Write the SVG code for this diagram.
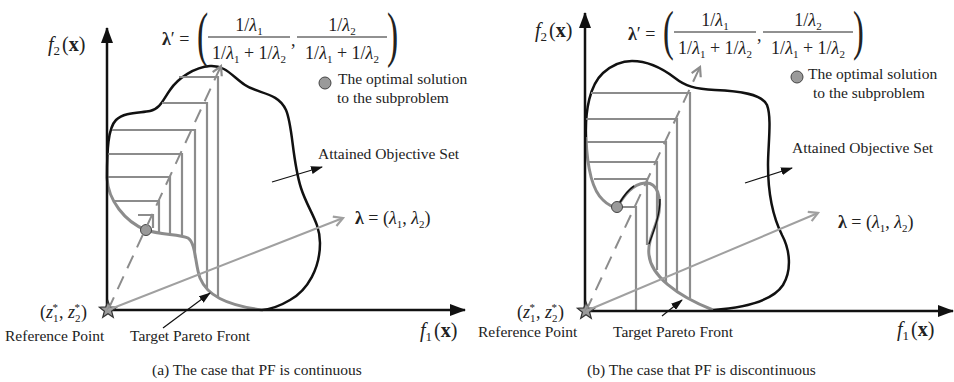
<svg xmlns="http://www.w3.org/2000/svg" width="954" height="382" viewBox="0 0 954 382">
<style>
text{font-family:"Liberation Serif","Times New Roman",serif;fill:#222}
.lbl{font-size:15.5px}
.m{font-size:18px}
.ax{font-size:20px}
.it{font-style:italic}
.b{font-weight:bold}
.sub{font-size:11px}
.axis{stroke:#111;stroke-width:2.5;fill:none}
.set{stroke:#111;stroke-width:2.5;fill:none}
.pf{stroke:#8c8c8c;stroke-width:3;fill:none}
.ct{stroke:#8c8c8c;stroke-width:2.2;fill:none}
.dash{stroke:#8c8c8c;stroke-width:2;stroke-dasharray:14 9;fill:none}
.lam{stroke:#a0a0a0;stroke-width:2;fill:none}
.ptr{stroke:#111;stroke-width:1.2;fill:none}
.bar{stroke:#222;stroke-width:1}
.dot{fill:#9a9a9a;stroke:#444;stroke-width:1}
.star{fill:#9a9a9a;stroke:#333;stroke-width:1.2}
</style>
<defs>
<marker id="ax" markerWidth="16" markerHeight="12" refX="15" refY="6" orient="auto" markerUnits="userSpaceOnUse"><path d="M0,0 L16,6 L0,12 z" fill="#111"/></marker>
<marker id="pt" markerWidth="12" markerHeight="8" refX="11" refY="4" orient="auto" markerUnits="userSpaceOnUse"><path d="M0,0 L12,4 L0,8 z" fill="#111"/></marker>
<marker id="chev" markerWidth="12" markerHeight="12" refX="10" refY="6" orient="auto" markerUnits="userSpaceOnUse"><path d="M1,1 L10,6 L1,11" fill="none" stroke="#8c8c8c" stroke-width="2.2"/></marker>
<marker id="chev2" markerWidth="12" markerHeight="12" refX="10" refY="6" orient="auto" markerUnits="userSpaceOnUse"><path d="M1,1 L10,6 L1,11" fill="none" stroke="#a0a0a0" stroke-width="2.2"/></marker>
<path id="starShape" d="M0,-9 L2.23,-3.07 L8.56,-2.78 L3.61,1.17 L5.29,7.28 L0,3.8 L-5.29,7.28 L-3.61,1.17 L-8.56,-2.78 L-2.23,-3.07 Z"/>
</defs>
<rect width="954" height="382" fill="#fff"/>

<!-- ===== Panel (a) ===== -->
<g id="panel-a">
  <g id="a-attained-set">
    <path class="set" d="M107,178 C107,150 108,128 116,120 C124,112 140,113 150,111 C160,109 163,100 170,90 C178,78 195,67 210,66 C225,65 232,76 245,85 C258,94 278,92 286,110 C293,126 292,160 301,188 C308,210 320,222 320,243 C320,268 308,290 290,300 C280,306 272,309 262,310"/>
  </g>
  <g id="a-contours">
    <path class="ct" d="M179,77 H218 V297"/>
    <path class="ct" d="M162,103 H207 V288"/>
    <path class="ct" d="M112,130 H195 V258"/>
    <path class="ct" d="M108,154 H182 V237"/>
    <path class="ct" d="M107,177 H170 V235"/>
    <path class="ct" d="M113,201 H159 V232"/>
    <path class="ct" d="M138,215 H153 V228"/>
  </g>
  <g id="a-pareto-front">
    <path class="pf" d="M107,178 C108,200 125,222 146,230 C160,235 180,234 188,238 C196,243 195,265 200,278 C207,295 225,305 262,310"/>
  </g>
  <g id="a-axes">
    <line class="axis" x1="107" y1="310" x2="107" y2="28" marker-end="url(#ax)"/>
    <line class="axis" x1="107" y1="310" x2="465" y2="310" marker-end="url(#ax)"/>
  </g>
  <g id="a-solution"><circle class="dot" cx="146" cy="230" r="5.5"/></g>
  <g id="a-reference-point"><use href="#starShape" class="star" transform="translate(108,310)"/></g>
  <g id="a-labels">
    <text class="ax" x="48" y="51"><tspan class="it">f</tspan><tspan font-size="13" dy="4">2</tspan><tspan dy="-4" dx="2">(</tspan><tspan class="b">x</tspan>)</text>
    <text class="ax" x="420" y="337"><tspan class="it">f</tspan><tspan font-size="13" dy="4">1</tspan><tspan dy="-4" dx="2">(</tspan><tspan class="b">x</tspan>)</text>
    <text class="m" x="40" y="318">(<tspan class="it">z</tspan><tspan font-size="11" dy="4">1</tspan><tspan font-size="11" dx="-6" dy="-11">*</tspan><tspan dy="7" dx="1">, </tspan><tspan class="it">z</tspan><tspan font-size="11" dy="4">2</tspan><tspan font-size="11" dx="-6" dy="-11">*</tspan><tspan dy="7" dx="1">)</tspan></text>
    <text class="lbl" x="5" y="341">Reference Point</text>
    <text class="lbl" x="130" y="341">Target Pareto Front</text>
    <text class="lbl" x="318" y="159">Attained Objective Set</text>
    <text class="lbl" x="338" y="84">The optimal solution</text>
    <text class="lbl" x="337" y="103">to the subproblem</text>
    <text class="m" x="355" y="224"><tspan class="b">λ</tspan> = (<tspan class="it">λ</tspan><tspan class="sub" dy="4">1</tspan><tspan dy="-4">, </tspan><tspan class="it">λ</tspan><tspan class="sub" dy="4">2</tspan><tspan dy="-4">)</tspan></text>
    <text class="lbl" x="152" y="375">(a) The case that PF is continuous</text>
  </g>
  <g id="a-legend-dot"><circle class="dot" cx="325" cy="83" r="6"/></g>
  <g id="a-formula">
    <text class="m" x="162" y="45"><tspan class="b">λ</tspan>′ =</text>
    <text transform="translate(197,55) scale(0.55,1)" font-size="61">(</text>
    <text x="249" y="31" class="m" text-anchor="middle">1/<tspan class="it">λ</tspan><tspan class="sub" dy="4">1</tspan></text>
    <line class="bar" x1="208" y1="37" x2="290" y2="37"/>
    <text x="249" y="59" class="m" text-anchor="middle">1/<tspan class="it">λ</tspan><tspan class="sub" dy="4">1</tspan><tspan dy="-4"> + 1/</tspan><tspan class="it">λ</tspan><tspan class="sub" dy="4">2</tspan></text>
    <text class="m" x="291" y="46">,</text>
    <text x="342" y="31" class="m" text-anchor="middle">1/<tspan class="it">λ</tspan><tspan class="sub" dy="4">2</tspan></text>
    <line class="bar" x1="297" y1="37" x2="387" y2="37"/>
    <text x="342" y="59" class="m" text-anchor="middle">1/<tspan class="it">λ</tspan><tspan class="sub" dy="4">1</tspan><tspan dy="-4"> + 1/</tspan><tspan class="it">λ</tspan><tspan class="sub" dy="4">2</tspan></text>
    <text transform="translate(387,55) scale(0.55,1)" font-size="61">)</text>
  </g>
</g>

<!-- ===== Panel (b) ===== -->
<g id="panel-b">
  <g id="b-attained-set">
    <path class="set" d="M586,137 C585,110 590,85 603,73 C612,65 622,61 632,61 C648,61 662,68 675,78 C685,86 695,89 715,90 C740,91 762,94 767,105 C772,118 768,145 768,165 C768,190 772,215 782,235 C790,250 792,270 783,285 C772,302 740,308 713,310"/>
  </g>
  <g id="b-contours">
    <path class="ct" d="M591,93 H690 V298"/>
    <path class="ct" d="M586,119 H677 V292"/>
    <path class="ct" d="M586,142 H666 V283"/>
    <path class="ct" d="M589,162 H657 V270"/>
    <path class="ct" d="M594,179 H647 V245"/>
    <path class="ct" d="M622,207 H636 V310"/>
  </g>
  <g id="b-pareto-front">
    <path class="pf" d="M586,137 C587,165 592,190 603,200 C608,205 612,207 617,207"/>
    <path class="pf" d="M617,207 C624,196 632,184 645,183 C658,182 661,198 659,212 C657,226 647,240 649,255 C651,275 675,295 713,310"/>
    <path d="M619,204 C623,197 628,190 634,186" stroke="#111" stroke-width="1.6" fill="none"/>
    <path d="M660,199 C660,214 655,228 649,244" stroke="#111" stroke-width="1.4" fill="none"/>
  </g>
  <g id="b-axes">
    <line class="axis" x1="585" y1="311" x2="585" y2="13" marker-end="url(#ax)"/>
    <line class="axis" x1="585" y1="311" x2="953" y2="311" marker-end="url(#ax)"/>
  </g>
  <g id="b-solution"><circle class="dot" cx="617" cy="207" r="5.5"/></g>
  <g id="b-reference-point"><use href="#starShape" class="star" transform="translate(586,311)"/></g>
  <g id="b-labels">
    <text class="ax" x="535" y="37"><tspan class="it">f</tspan><tspan font-size="13" dy="4">2</tspan><tspan dy="-4" dx="2">(</tspan><tspan class="b">x</tspan>)</text>
    <text class="ax" x="897" y="336"><tspan class="it">f</tspan><tspan font-size="13" dy="4">1</tspan><tspan dy="-4" dx="2">(</tspan><tspan class="b">x</tspan>)</text>
    <text class="m" x="517" y="318">(<tspan class="it">z</tspan><tspan font-size="11" dy="4">1</tspan><tspan font-size="11" dx="-6" dy="-11">*</tspan><tspan dy="7" dx="1">, </tspan><tspan class="it">z</tspan><tspan font-size="11" dy="4">2</tspan><tspan font-size="11" dx="-6" dy="-11">*</tspan><tspan dy="7" dx="1">)</tspan></text>
    <text class="lbl" x="478" y="337">Reference Point</text>
    <text class="lbl" x="613" y="337">Target Pareto Front</text>
    <text class="lbl" x="792" y="153">Attained Objective Set</text>
    <text class="lbl" x="808" y="79">The optimal solution</text>
    <text class="lbl" x="813" y="98">to the subproblem</text>
    <text class="m" x="838" y="228"><tspan class="b">λ</tspan> = (<tspan class="it">λ</tspan><tspan class="sub" dy="4">1</tspan><tspan dy="-4">, </tspan><tspan class="it">λ</tspan><tspan class="sub" dy="4">2</tspan><tspan dy="-4">)</tspan></text>
    <text class="lbl" x="587" y="375">(b) The case that PF is discontinuous</text>
  </g>
  <g id="b-legend-dot"><circle class="dot" cx="797" cy="77" r="6"/></g>
  <g id="b-formula">
    <text class="m" x="628" y="40"><tspan class="b">λ</tspan>′ =</text>
    <text transform="translate(663,49) scale(0.6,1)" font-size="54">(</text>
    <text x="715" y="26" class="m" text-anchor="middle">1/<tspan class="it">λ</tspan><tspan class="sub" dy="4">1</tspan></text>
    <line class="bar" x1="674" y1="32" x2="756" y2="32"/>
    <text x="715" y="54" class="m" text-anchor="middle">1/<tspan class="it">λ</tspan><tspan class="sub" dy="4">1</tspan><tspan dy="-4"> + 1/</tspan><tspan class="it">λ</tspan><tspan class="sub" dy="4">2</tspan></text>
    <text class="m" x="757" y="41">,</text>
    <text x="808" y="26" class="m" text-anchor="middle">1/<tspan class="it">λ</tspan><tspan class="sub" dy="4">2</tspan></text>
    <line class="bar" x1="763" y1="32" x2="853" y2="32"/>
    <text x="808" y="54" class="m" text-anchor="middle">1/<tspan class="it">λ</tspan><tspan class="sub" dy="4">1</tspan><tspan dy="-4"> + 1/</tspan><tspan class="it">λ</tspan><tspan class="sub" dy="4">2</tspan></text>
    <text transform="translate(853,49) scale(0.6,1)" font-size="54">)</text>
  </g>
</g>

<!-- ===== Connectors ===== -->
<g id="connectors">
  <line class="dash" x1="108" y1="310" x2="221" y2="66" marker-end="url(#chev)"/>
  <line class="lam" x1="108" y1="310" x2="343" y2="218" marker-end="url(#chev2)"/>
  <line class="ptr" x1="272" y1="182" x2="322" y2="167" marker-end="url(#pt)"/>
  <line class="ptr" x1="163" y1="328" x2="210" y2="293" marker-end="url(#pt)"/>
  <line class="dash" x1="586" y1="311" x2="700" y2="67" marker-end="url(#chev)"/>
  <line class="lam" x1="586" y1="311" x2="818" y2="213" marker-end="url(#chev2)"/>
  <line class="ptr" x1="745" y1="183" x2="792" y2="168" marker-end="url(#pt)"/>
  <line class="ptr" x1="662" y1="316" x2="682" y2="300" marker-end="url(#pt)"/>
</g>
</svg>
